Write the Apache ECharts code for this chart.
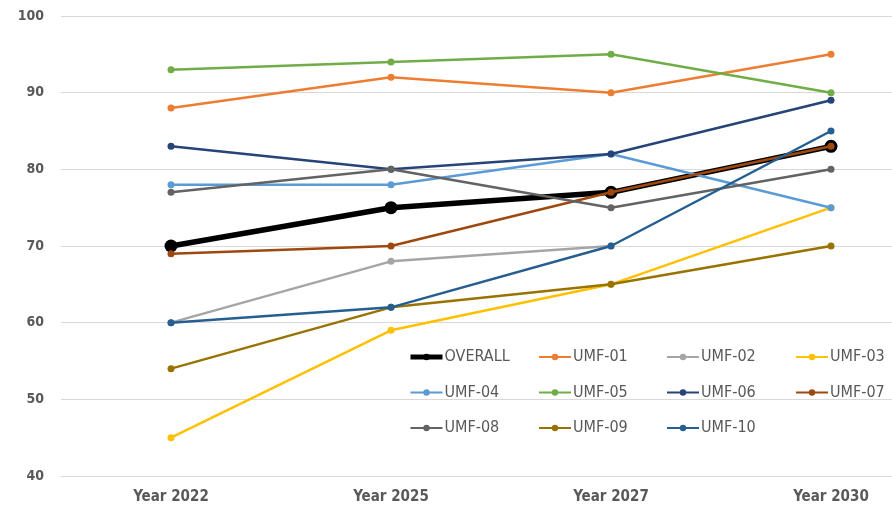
<!DOCTYPE html>
<html><head><meta charset="utf-8">
<script src="https://cdn.jsdelivr.net/npm/echarts@6/dist/echarts.min.js"></script>
<style>html,body{margin:0;padding:0;background:#fff;overflow:hidden;width:892px;height:509px}#c{width:941px;height:509px}</style>
</head><body><div id="c"></div>
<script>
const categories = ['Year 2022', 'Year 2025', 'Year 2027', 'Year 2030'];
const seriesNames = ['OVERALL','UMF-01','UMF-02','UMF-03','UMF-04','UMF-05','UMF-06','UMF-07','UMF-08','UMF-09','UMF-10'];
const overall = [70, 75, 77, 83];
const umf01 = [88, 92, 90, 95];
const umf02 = [60, 68, 70, null];
const umf03 = [45, 59, 65, 75];
const umf04 = [78, 78, 82, 75];
const umf05 = [93, 94, 95, 90];
const umf06 = [83, 80, 82, 89];
const umf07 = [69, 70, 77, 83];
const umf08 = [77, 80, 75, 80];
const umf09 = [54, 62, 65, 70];
const umf10 = [60, 62, 70, 85];
const values = [overall, umf01, umf02, umf03, umf04, umf05, umf06, umf07, umf08, umf09, umf10];
const colors = ['#000000','#ED7D31','#A5A5A5','#FFC000','#5B9BD5','#70AD47','#264478','#9E480E','#636363','#997300','#255E91'];
const yTicks = {min: 40, max: 100, interval: 10};

const font = "'Liberation Sans Narrow','DejaVu Sans Condensed','Liberation Sans',sans-serif";
const series = seriesNames.map((n, i) => ({
  name: n, type: 'line', data: values[i],
  symbol: 'circle',
  symbolSize: i === 0 ? 13 : 7,
  lineStyle: {width: i === 0 ? 5.5 : 2.5, color: colors[i]},
  itemStyle: {color: colors[i]},
  connectNulls: false,
  z: 2 + i
}));
const colX = [408, 538, 666, 795];
const legends = colX.map((x, c) => ({
  left: x, top: 349, orient: 'vertical',
  itemWidth: 32, itemHeight: 8, itemGap: 19.5,
  data: seriesNames.filter((n, i) => i % 4 === c).map(n => n === 'OVERALL'
    ? {name: n, lineStyle: {width: 5}} : {name: n}),
  textStyle: {color: '#595959', fontSize: 16, fontFamily: font, padding: [0,0,0,-3]},
  padding: 0
}));
const chart = echarts.init(document.getElementById('c'), null, {renderer: 'canvas'});
chart.setOption({
  animation: false,
  color: colors,
  grid: {left: 61, top: 16, right: 0, bottom: 33, containLabel: false},
  xAxis: {
    type: 'category', data: categories, boundaryGap: true,
    axisLine: {show: false}, axisTick: {show: false},
    axisLabel: {color: '#595959', fontWeight: 'bold', fontSize: 15, fontFamily: font, margin: 14}
  },
  yAxis: {
    type: 'value', min: yTicks.min, max: yTicks.max, interval: yTicks.interval,
    axisLine: {show: false}, axisTick: {show: false},
    axisLabel: {color: '#595959', fontWeight: 'bold', fontSize: 14, fontFamily: font, margin: 17},
    splitLine: {lineStyle: {color: '#D9D9D9', width: 1}}
  },
  legend: legends,
  series: series
});
</script></body></html>
